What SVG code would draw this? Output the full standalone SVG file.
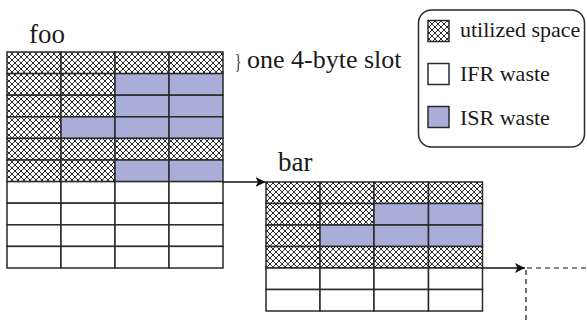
<svg xmlns="http://www.w3.org/2000/svg" width="587" height="324" viewBox="0 0 587 324">
<style>
.t{font-family:"Liberation Serif","Times New Roman",serif;fill:#1a1a1a}
.c{stroke:#2a2a2a;stroke-width:1.5}
.h{fill:url(#hatch)}
.b{fill:#a9aed8}
.w{fill:#fff}
.conn{stroke:#111;stroke-width:1.3;fill:none}
.dash{stroke:#111;stroke-width:1.2;fill:none;stroke-dasharray:5 4}
</style>
<defs>
<pattern id="hatch" patternUnits="userSpaceOnUse" width="6" height="6">
<rect width="6" height="6" fill="#fff"/>
<path d="M0,0L6,6M6,0L0,6M-1,1L1,-1M5,7L7,5M-1,5L1,7M5,-1L7,1" stroke="#2a2a2a" stroke-width="1"/>
</pattern>
<marker id="arr" viewBox="0 0 10 10" refX="10" refY="5" markerWidth="10" markerHeight="10" markerUnits="userSpaceOnUse" orient="auto">
<path d="M0,0L10,5L0,10L2.5,5Z" fill="#111"/>
</marker>
</defs>
<rect width="587" height="324" fill="#fff"/>

<g id="foo">
<text class="t" x="29" y="43" font-size="27">foo</text>
<g class="c">
<rect class="h" x="7" y="52" width="54" height="21.6"/><rect class="h" x="61" y="52" width="54" height="21.6"/><rect class="h" x="115" y="52" width="54" height="21.6"/><rect class="h" x="169" y="52" width="54" height="21.6"/>
<rect class="h" x="7" y="73.6" width="54" height="21.6"/><rect class="h" x="61" y="73.6" width="54" height="21.6"/><rect class="b" x="115" y="73.6" width="54" height="21.6"/><rect class="b" x="169" y="73.6" width="54" height="21.6"/>
<rect class="h" x="7" y="95.2" width="54" height="21.6"/><rect class="h" x="61" y="95.2" width="54" height="21.6"/><rect class="b" x="115" y="95.2" width="54" height="21.6"/><rect class="b" x="169" y="95.2" width="54" height="21.6"/>
<rect class="h" x="7" y="116.8" width="54" height="21.6"/><rect class="b" x="61" y="116.8" width="54" height="21.6"/><rect class="b" x="115" y="116.8" width="54" height="21.6"/><rect class="b" x="169" y="116.8" width="54" height="21.6"/>
<rect class="h" x="7" y="138.4" width="54" height="21.6"/><rect class="h" x="61" y="138.4" width="54" height="21.6"/><rect class="h" x="115" y="138.4" width="54" height="21.6"/><rect class="h" x="169" y="138.4" width="54" height="21.6"/>
<rect class="h" x="7" y="160" width="54" height="21.6"/><rect class="h" x="61" y="160" width="54" height="21.6"/><rect class="b" x="115" y="160" width="54" height="21.6"/><rect class="b" x="169" y="160" width="54" height="21.6"/>
<rect class="w" x="7" y="181.6" width="54" height="21.6"/><rect class="w" x="61" y="181.6" width="54" height="21.6"/><rect class="w" x="115" y="181.6" width="54" height="21.6"/><rect class="w" x="169" y="181.6" width="54" height="21.6"/>
<rect class="w" x="7" y="203.2" width="54" height="21.6"/><rect class="w" x="61" y="203.2" width="54" height="21.6"/><rect class="w" x="115" y="203.2" width="54" height="21.6"/><rect class="w" x="169" y="203.2" width="54" height="21.6"/>
<rect class="w" x="7" y="224.8" width="54" height="21.6"/><rect class="w" x="61" y="224.8" width="54" height="21.6"/><rect class="w" x="115" y="224.8" width="54" height="21.6"/><rect class="w" x="169" y="224.8" width="54" height="21.6"/>
<rect class="w" x="7" y="246.4" width="54" height="21.6"/><rect class="w" x="61" y="246.4" width="54" height="21.6"/><rect class="w" x="115" y="246.4" width="54" height="21.6"/><rect class="w" x="169" y="246.4" width="54" height="21.6"/>
</g>
</g>

<g id="slot-note">
<text class="t" font-size="22" transform="translate(235,68) scale(0.6,1)">}</text>
<text class="t" x="247" y="68" font-size="26">one 4-byte slot</text>
</g>

<g id="bar">
<text class="t" x="278" y="171" font-size="27">bar</text>
<g class="c">
<rect class="h" x="266" y="182" width="54" height="21.5"/><rect class="h" x="320" y="182" width="54" height="21.5"/><rect class="h" x="374" y="182" width="54.5" height="21.5"/><rect class="h" x="428.5" y="182" width="54" height="21.5"/>
<rect class="h" x="266" y="203.5" width="54" height="21.5"/><rect class="h" x="320" y="203.5" width="54" height="21.5"/><rect class="b" x="374" y="203.5" width="54.5" height="21.5"/><rect class="b" x="428.5" y="203.5" width="54" height="21.5"/>
<rect class="h" x="266" y="225" width="54" height="21.5"/><rect class="b" x="320" y="225" width="54" height="21.5"/><rect class="b" x="374" y="225" width="54.5" height="21.5"/><rect class="b" x="428.5" y="225" width="54" height="21.5"/>
<rect class="h" x="266" y="246.5" width="54" height="21.5"/><rect class="h" x="320" y="246.5" width="54" height="21.5"/><rect class="h" x="374" y="246.5" width="54.5" height="21.5"/><rect class="h" x="428.5" y="246.5" width="54" height="21.5"/>
<rect class="w" x="266" y="268" width="54" height="21.5"/><rect class="w" x="320" y="268" width="54" height="21.5"/><rect class="w" x="374" y="268" width="54.5" height="21.5"/><rect class="w" x="428.5" y="268" width="54" height="21.5"/>
<rect class="w" x="266" y="289.5" width="54" height="21.5"/><rect class="w" x="320" y="289.5" width="54" height="21.5"/><rect class="w" x="374" y="289.5" width="54.5" height="21.5"/><rect class="w" x="428.5" y="289.5" width="54" height="21.5"/>
</g>
</g>

<g id="legend">
<rect x="418.5" y="10" width="166" height="137" rx="13" fill="#fff" stroke="#2a2a2a" stroke-width="1.5"/>
<rect class="h c" x="428" y="20.5" width="21" height="21"/>
<text class="t" x="460" y="37" font-size="22">utilized space</text>
<rect class="w c" x="428" y="63.5" width="21" height="21"/>
<text class="t" x="460" y="81" font-size="22">IFR waste</text>
<rect class="b c" x="428" y="106.5" width="21" height="21"/>
<text class="t" x="460" y="125" font-size="22">ISR waste</text>
</g>

<g id="connectors">
<path class="conn" d="M223,182H265.5" marker-end="url(#arr)"/>
<path class="conn" d="M482.5,268H525" marker-end="url(#arr)"/>
<path class="dash" d="M527,268H587"/>
<path class="dash" d="M526,270V324"/>
</g>
</svg>
